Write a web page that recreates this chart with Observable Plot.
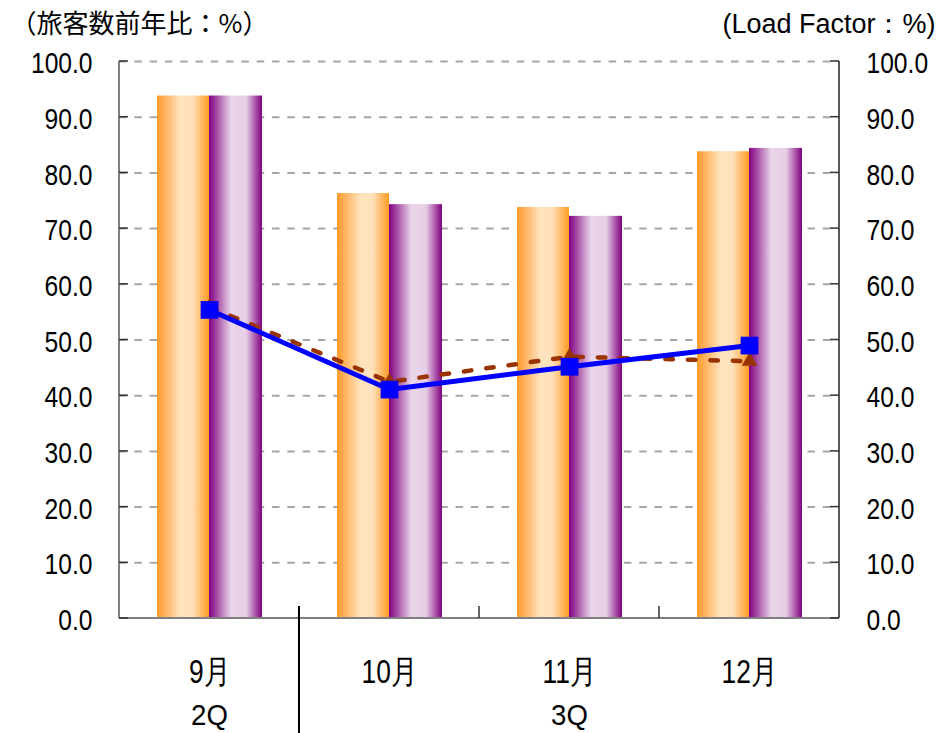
<!DOCTYPE html>
<html>
<head>
<meta charset="utf-8">
<script src="https://cdn.jsdelivr.net/npm/d3@7"></script>
<script src="https://cdn.jsdelivr.net/npm/@observablehq/plot@0.6"></script>
<style>
  body { margin: 0; background: #fff; }
  #chart { width: 939px; height: 733px; }
</style>
</head>
<body>
<div id="chart"></div>
<script>
// ---- data ----
const months = ["9月", "10月", "11月", "12月"];
const barOrange = [93.8, 76.3, 73.8, 83.8];   // 旅客数前年比 series 1
const barPurple = [93.8, 74.3, 72.2, 84.4];   // 旅客数前年比 series 2
const lfBlue = [55.4, 41.1, 45.2, 49.0];      // Load Factor (squares)
const lfBrown = [55.9, 42.5, 47.0, 46.2];     // Load Factor (triangles)
const quarterLabels = ["2Q", "3Q"];
const quarterMonths = ["9月", "11月"];
const yTicks = [0, 10, 20, 30, 40, 50, 60, 70, 80, 90, 100];
const gridTicks = [10, 20, 30, 40, 50, 60, 70, 80, 90, 100];
const leftTitle = "（旅客数前年比：%）";
const rightTitle = "(Load Factor：%)";

const orangeRows = months.map((m, i) => ({month: m, value: barOrange[i]}));
const purpleRows = months.map((m, i) => ({month: m, value: barPurple[i]}));
const blueRows = months.map((m, i) => ({month: m, value: lfBlue[i]}));
const brownRows = months.map((m, i) => ({month: m, value: lfBrown[i]}));
const quarterRows = quarterLabels.map((q, i) => ({month: quarterMonths[i], label: q}));

const SANS = "'Liberation Sans', Arial, sans-serif";
const CJK = "'Noto Sans CJK JP', 'Liberation Sans', sans-serif";

const plot = Plot.plot({
  width: 939,
  height: 733,
  marginLeft: 119,
  marginRight: 100,
  marginTop: 61,
  marginBottom: 115,
  style: {background: "#fff", fontFamily: SANS, overflow: "visible", color: "#000"},
  x: {type: "band", domain: months, padding: 0, axis: null},
  y: {domain: [0, 100], axis: null},
  marks: [
    Plot.ruleY(gridTicks, {stroke: "#A6A6A6", strokeWidth: 2, strokeDasharray: "7.5,7.8"}),
    Plot.barY(orangeRows, {x: "month", y: "value", fill: "url(#gOrange)", insetLeft: 38, insetRight: 90}),
    Plot.barY(purpleRows, {x: "month", y: "value", fill: "url(#gPurple)", insetLeft: 90, insetRight: 37}),
    Plot.line(brownRows, {x: "month", y: "value", stroke: "#993300", strokeWidth: 4.5, strokeDasharray: "7.5,15"}),
    Plot.line(blueRows, {x: "month", y: "value", stroke: "#0000FF", strokeWidth: 5}),
    Plot.dot(brownRows, {x: "month", y: "value", symbol: "triangle", fill: "#993300", r: 5.8}),
    Plot.dot(blueRows, {x: "month", y: "value", symbol: "square", fill: "#0000FF", r: 10}),
    Plot.axisY({anchor: "left", ticks: yTicks, tickFormat: d3.format(".1f"), tickSize: 0, tickPadding: 27, fontSize: 30, dy: 2, label: null}),
    Plot.axisY({anchor: "right", ticks: yTicks, tickFormat: d3.format(".1f"), tickSize: 0, tickPadding: 27, fontSize: 30, dy: 2, label: null}),
    Plot.text(months, {x: d => d, frameAnchor: "bottom", dy: 54, lineAnchor: "middle", fontSize: 33}),
    Plot.text(quarterRows, {x: "month", text: "label", frameAnchor: "bottom", dy: 97, lineAnchor: "middle", fontSize: 30}),
    Plot.text([leftTitle], {frameAnchor: "top-left", dx: -109, dy: -37, textAnchor: "start", lineAnchor: "middle", fontSize: 26, fontFamily: CJK}),
    Plot.text([rightTitle], {frameAnchor: "top-right", dx: 96, dy: -37, textAnchor: "end", lineAnchor: "middle", fontSize: 27, fontFamily: SANS})
  ]
});

document.getElementById("chart").appendChild(plot);

// ---- gradients and frame decorations ----
const svg = d3.select(plot);
const defs = svg.insert("defs", ":first-child");
function grad(id, stops) {
  const g = defs.append("linearGradient").attr("id", id).attr("x1", "0").attr("x2", "1").attr("y1", "0").attr("y2", "0");
  stops.forEach(([o, c]) => g.append("stop").attr("offset", o).attr("stop-color", c));
}
grad("gOrange", [[0, "#FF9A2A"], [0.45, "#FFE3BF"], [0.68, "#FFE1BB"], [1, "#FF9A22"]]);
grad("gPurple", [[0, "#800080"], [0.42, "#EAD5EA"], [0.7, "#E6CFE6"], [1, "#800080"]]);

const xs = plot.scale("x"), ys = plot.scale("y");
const x0 = xs.apply(months[0]);
const x1 = xs.apply(months[months.length - 1]) + xs.bandwidth;
const yB = ys.apply(0), yT = ys.apply(100);
const deco = svg.append("g").attr("aria-label", "frame");
deco.append("line").attr("x1", x0).attr("x2", x0).attr("y1", yT).attr("y2", yB).attr("stroke", "#7F7F7F").attr("stroke-width", 2);
deco.append("line").attr("x1", x1).attr("x2", x1).attr("y1", yT).attr("y2", yB).attr("stroke", "#222").attr("stroke-width", 1.5);
deco.append("line").attr("x1", x0).attr("x2", x1).attr("y1", yB).attr("y2", yB).attr("stroke", "#7F7F7F").attr("stroke-width", 2);
yTicks.forEach(t => {
  const y = ys.apply(t);
  deco.append("line").attr("x1", x0).attr("x2", x0 + 9).attr("y1", y).attr("y2", y).attr("stroke", "#333").attr("stroke-width", 1.5);
  deco.append("line").attr("x1", x1 - 9).attr("x2", x1).attr("y1", y).attr("y2", y).attr("stroke", "#333").attr("stroke-width", 1.5);
});
months.slice(1).forEach(m => {
  const x = xs.apply(m);
  deco.append("line").attr("x1", x).attr("x2", x).attr("y1", yB - 12).attr("y2", yB).attr("stroke", "#333").attr("stroke-width", 1.5);
});
const xd = xs.apply(months[1]);
deco.append("line").attr("x1", xd).attr("x2", xd).attr("y1", yB - 12).attr("y2", 733).attr("stroke", "#000").attr("stroke-width", 2);

// condensed look for numeric / month labels via textLength (positions untouched)
function squeezeText(filter, s) {
  plot.querySelectorAll("text").forEach(el => {
    if (!filter(el.textContent)) return;
    const L = el.getComputedTextLength();
    if (L > 0) {
      el.setAttribute("lengthAdjust", "spacingAndGlyphs");
      el.setAttribute("textLength", (L * s).toFixed(2));
    }
  });
}
squeezeText(t => /^\d+\.\d$/.test(t), 0.82);
squeezeText(t => months.includes(t), 0.8);
squeezeText(t => quarterLabels.includes(t), 0.92);
</script>
</body>
</html>
